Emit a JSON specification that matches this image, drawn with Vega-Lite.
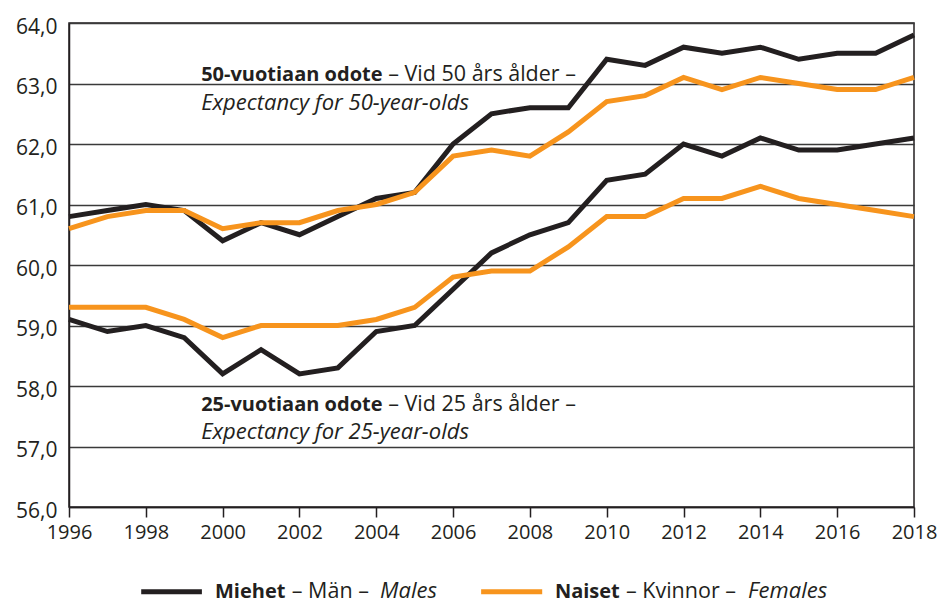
{
  "$schema": "https://vega.github.io/schema/vega-lite/v6.json",
  "width": 845,
  "height": 484,
  "autosize": {"type": "none"},
  "padding": {"left": 69, "top": 23, "right": 26, "bottom": 97},
  "background": "white",
  "config": {"view": {"stroke": "#231f20", "strokeWidth": 1.5}, "font": "Open Sans"},
  "datasets": {
    "series": [
      {"year":1996,"age":"50","sex":"Miehet","value":60.8},{"year":1997,"age":"50","sex":"Miehet","value":60.9},{"year":1998,"age":"50","sex":"Miehet","value":61.0},{"year":1999,"age":"50","sex":"Miehet","value":60.9},{"year":2000,"age":"50","sex":"Miehet","value":60.4},{"year":2001,"age":"50","sex":"Miehet","value":60.7},{"year":2002,"age":"50","sex":"Miehet","value":60.5},{"year":2003,"age":"50","sex":"Miehet","value":60.8},{"year":2004,"age":"50","sex":"Miehet","value":61.1},{"year":2005,"age":"50","sex":"Miehet","value":61.2},{"year":2006,"age":"50","sex":"Miehet","value":62.0},{"year":2007,"age":"50","sex":"Miehet","value":62.5},{"year":2008,"age":"50","sex":"Miehet","value":62.6},{"year":2009,"age":"50","sex":"Miehet","value":62.6},{"year":2010,"age":"50","sex":"Miehet","value":63.4},{"year":2011,"age":"50","sex":"Miehet","value":63.3},{"year":2012,"age":"50","sex":"Miehet","value":63.6},{"year":2013,"age":"50","sex":"Miehet","value":63.5},{"year":2014,"age":"50","sex":"Miehet","value":63.6},{"year":2015,"age":"50","sex":"Miehet","value":63.4},{"year":2016,"age":"50","sex":"Miehet","value":63.5},{"year":2017,"age":"50","sex":"Miehet","value":63.5},{"year":2018,"age":"50","sex":"Miehet","value":63.8},
      {"year":1996,"age":"50","sex":"Naiset","value":60.6},{"year":1997,"age":"50","sex":"Naiset","value":60.8},{"year":1998,"age":"50","sex":"Naiset","value":60.9},{"year":1999,"age":"50","sex":"Naiset","value":60.9},{"year":2000,"age":"50","sex":"Naiset","value":60.6},{"year":2001,"age":"50","sex":"Naiset","value":60.7},{"year":2002,"age":"50","sex":"Naiset","value":60.7},{"year":2003,"age":"50","sex":"Naiset","value":60.9},{"year":2004,"age":"50","sex":"Naiset","value":61.0},{"year":2005,"age":"50","sex":"Naiset","value":61.2},{"year":2006,"age":"50","sex":"Naiset","value":61.8},{"year":2007,"age":"50","sex":"Naiset","value":61.9},{"year":2008,"age":"50","sex":"Naiset","value":61.8},{"year":2009,"age":"50","sex":"Naiset","value":62.2},{"year":2010,"age":"50","sex":"Naiset","value":62.7},{"year":2011,"age":"50","sex":"Naiset","value":62.8},{"year":2012,"age":"50","sex":"Naiset","value":63.1},{"year":2013,"age":"50","sex":"Naiset","value":62.9},{"year":2014,"age":"50","sex":"Naiset","value":63.1},{"year":2015,"age":"50","sex":"Naiset","value":63.0},{"year":2016,"age":"50","sex":"Naiset","value":62.9},{"year":2017,"age":"50","sex":"Naiset","value":62.9},{"year":2018,"age":"50","sex":"Naiset","value":63.1},
      {"year":1996,"age":"25","sex":"Miehet","value":59.1},{"year":1997,"age":"25","sex":"Miehet","value":58.9},{"year":1998,"age":"25","sex":"Miehet","value":59.0},{"year":1999,"age":"25","sex":"Miehet","value":58.8},{"year":2000,"age":"25","sex":"Miehet","value":58.2},{"year":2001,"age":"25","sex":"Miehet","value":58.6},{"year":2002,"age":"25","sex":"Miehet","value":58.2},{"year":2003,"age":"25","sex":"Miehet","value":58.3},{"year":2004,"age":"25","sex":"Miehet","value":58.9},{"year":2005,"age":"25","sex":"Miehet","value":59.0},{"year":2006,"age":"25","sex":"Miehet","value":59.6},{"year":2007,"age":"25","sex":"Miehet","value":60.2},{"year":2008,"age":"25","sex":"Miehet","value":60.5},{"year":2009,"age":"25","sex":"Miehet","value":60.7},{"year":2010,"age":"25","sex":"Miehet","value":61.4},{"year":2011,"age":"25","sex":"Miehet","value":61.5},{"year":2012,"age":"25","sex":"Miehet","value":62.0},{"year":2013,"age":"25","sex":"Miehet","value":61.8},{"year":2014,"age":"25","sex":"Miehet","value":62.1},{"year":2015,"age":"25","sex":"Miehet","value":61.9},{"year":2016,"age":"25","sex":"Miehet","value":61.9},{"year":2017,"age":"25","sex":"Miehet","value":62.0},{"year":2018,"age":"25","sex":"Miehet","value":62.1},
      {"year":1996,"age":"25","sex":"Naiset","value":59.3},{"year":1997,"age":"25","sex":"Naiset","value":59.3},{"year":1998,"age":"25","sex":"Naiset","value":59.3},{"year":1999,"age":"25","sex":"Naiset","value":59.1},{"year":2000,"age":"25","sex":"Naiset","value":58.8},{"year":2001,"age":"25","sex":"Naiset","value":59.0},{"year":2002,"age":"25","sex":"Naiset","value":59.0},{"year":2003,"age":"25","sex":"Naiset","value":59.0},{"year":2004,"age":"25","sex":"Naiset","value":59.1},{"year":2005,"age":"25","sex":"Naiset","value":59.3},{"year":2006,"age":"25","sex":"Naiset","value":59.8},{"year":2007,"age":"25","sex":"Naiset","value":59.9},{"year":2008,"age":"25","sex":"Naiset","value":59.9},{"year":2009,"age":"25","sex":"Naiset","value":60.3},{"year":2010,"age":"25","sex":"Naiset","value":60.8},{"year":2011,"age":"25","sex":"Naiset","value":60.8},{"year":2012,"age":"25","sex":"Naiset","value":61.1},{"year":2013,"age":"25","sex":"Naiset","value":61.1},{"year":2014,"age":"25","sex":"Naiset","value":61.3},{"year":2015,"age":"25","sex":"Naiset","value":61.1},{"year":2016,"age":"25","sex":"Naiset","value":61.0},{"year":2017,"age":"25","sex":"Naiset","value":60.9},{"year":2018,"age":"25","sex":"Naiset","value":60.8}
    ],
    "notes": [
      {"text":"50-vuotiaan odote","x":1999.44,"y":63.04,"part":"bold"},
      {"text":"– Vid 50 års ålder –","x":2004.31,"y":63.04,"part":"regular"},
      {"text":"Expectancy for 50-year-olds","x":1999.44,"y":62.57,"part":"italic"},
      {"text":"25-vuotiaan odote","x":1999.44,"y":57.59,"part":"bold"},
      {"text":"– Vid 25 års ålder –","x":2004.31,"y":57.59,"part":"regular"},
      {"text":"Expectancy for 25-year-olds","x":1999.44,"y":57.13,"part":"italic"},
      {"text":"Miehet","x":1999.8,"y":54.5,"part":"bold"},
      {"text":"– Män –","x":2001.8,"y":54.5,"part":"regular"},
      {"text":"Males","x":2004.1,"y":54.5,"part":"italic"},
      {"text":"Naiset","x":2008.65,"y":54.5,"part":"bold"},
      {"text":"– Kvinnor –","x":2010.5,"y":54.5,"part":"regular"},
      {"text":"Females","x":2013.68,"y":54.5,"part":"italic"}
    ],
    "legend": [
      {"sex":"Miehet","x":1997.88,"x2":1999.46,"y":54.6},
      {"sex":"Naiset","x":2006.73,"x2":2008.32,"y":54.6}
    ]
  },
  "layer": [
    {
      "data": {"name": "series"},
      "mark": {"type": "line", "strokeWidth": 5, "strokeJoin": "miter", "strokeCap": "butt"},
      "encoding": {
        "x": {"field": "year", "type": "quantitative",
          "scale": {"domain": [1996, 2018], "nice": false, "zero": false},
          "axis": {"title": null, "grid": false,
            "values": [1996,1997,1998,1999,2000,2001,2002,2003,2004,2005,2006,2007,2008,2009,2010,2011,2012,2013,2014,2015,2016,2017,2018],
            "labelExpr": "datum.value % 2 === 0 ? format(datum.value, 'd') : ''",
            "tickSize": {"condition": {"test": "datum.value % 2 === 1", "value": 3}, "value": 10},
            "tickColor": "#231f20", "tickWidth": 1.5,
            "domainColor": "#231f20", "domainWidth": 1.5,
            "labelFontSize": 20, "labelColor": "#231f20", "labelPadding": 5,
            "labelFlush": false, "labelOverlap": false, "labelBound": false}},
        "y": {"field": "value", "type": "quantitative",
          "scale": {"domain": [56, 64], "nice": false, "zero": false},
          "axis": {"title": null, "ticks": false,
            "values": [56,56.5,57,57.5,58,58.5,59,59.5,60,60.5,61,61.5,62,62.5,63,63.5,64],
            "labelExpr": "datum.value % 1 === 0 ? replace(format(datum.value, '.1f'), '.', ',') : ''",
            "grid": true,
            "gridColor": {"condition": {"test": "datum.value % 1 === 0", "value": "#3a3a3a"}, "value": "#8c8c8c"},
            "gridWidth": 1.5,
            "domainColor": "#231f20", "domainWidth": 1.5,
            "labelFontSize": 21, "labelColor": "#231f20", "labelPadding": 12, "labelOffset": 4,
            "labelOverlap": false, "labelBound": false, "labelFlush": false}},
        "color": {"field": "sex", "type": "nominal",
          "scale": {"domain": ["Miehet", "Naiset"], "range": ["#231f20", "#f7941d"]}, "legend": null},
        "detail": {"field": "age"},
        "order": {"field": "year"}
      }
    },
    {
      "data": {"name": "legend"},
      "mark": {"type": "rule", "strokeWidth": 5},
      "encoding": {
        "x": {"field": "x", "type": "quantitative"},
        "x2": {"field": "x2"},
        "y": {"field": "y", "type": "quantitative"},
        "color": {"field": "sex", "type": "nominal", "legend": null}
      }
    },
    {
      "data": {"name": "notes"},
      "transform": [{"filter": "datum.part === 'bold'"}],
      "mark": {"type": "text", "align": "left", "baseline": "alphabetic", "fontSize": 20, "fontWeight": "bold", "color": "#231f20"},
      "encoding": {
        "x": {"field": "x", "type": "quantitative"},
        "y": {"field": "y", "type": "quantitative"},
        "text": {"field": "text"}
      }
    },
    {
      "data": {"name": "notes"},
      "transform": [{"filter": "datum.part === 'regular'"}],
      "mark": {"type": "text", "align": "left", "baseline": "alphabetic", "fontSize": 21.5, "color": "#231f20"},
      "encoding": {
        "x": {"field": "x", "type": "quantitative"},
        "y": {"field": "y", "type": "quantitative"},
        "text": {"field": "text"}
      }
    },
    {
      "data": {"name": "notes"},
      "transform": [{"filter": "datum.part === 'italic'"}],
      "mark": {"type": "text", "align": "left", "baseline": "alphabetic", "fontSize": 22, "fontStyle": "italic", "color": "#231f20"},
      "encoding": {
        "x": {"field": "x", "type": "quantitative"},
        "y": {"field": "y", "type": "quantitative"},
        "text": {"field": "text"}
      }
    }
  ]
}
